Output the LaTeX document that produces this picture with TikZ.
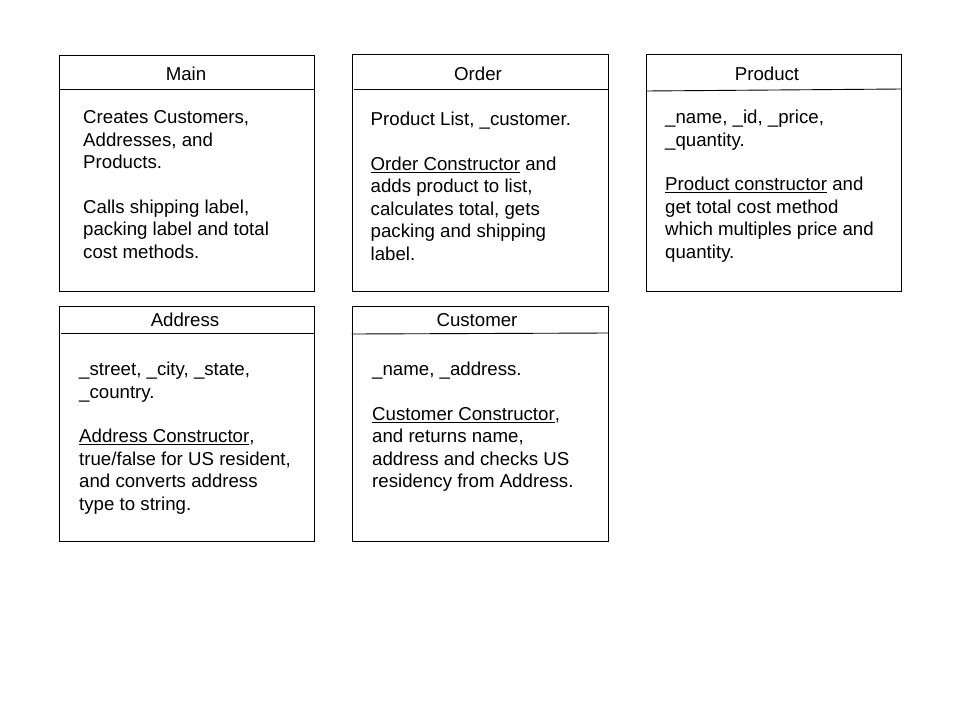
\documentclass[tikz,border=0pt]{standalone}
\usepackage{fontspec}
\setmainfont{Liberation Sans}
\newcommand{\topstrut}{\rule{0pt}{15pt}}
\tikzset{
  box/.style={draw, line width=0.9pt, rectangle, inner sep=0pt, anchor=north west},
  hdr/.style={line width=0.9pt},
  title/.style={font=\fontsize{18.67}{22.4}\selectfont, inner sep=0pt},
  body/.style={font=\fontsize{18.67}{22.4}\selectfont, align=left, anchor=north west, inner sep=0pt}
}
\begin{document}
\begin{tikzpicture}[x=1pt,y=-1pt]
\useasboundingbox (0,0) rectangle (960,720);
% boxes
\node[box, minimum width=255.5pt, minimum height=236pt] (main) at (58.5,54.5) {};
\node[box, minimum width=256pt, minimum height=236.5pt] (ord) at (352,54) {};
\node[box, minimum width=255pt, minimum height=236.5pt] (prod) at (646,54) {};
\node[box, minimum width=255.5pt, minimum height=235.5pt] (addr) at (58.5,305.5) {};
\node[box, minimum width=256.5pt, minimum height=235.5pt] (cust) at (351.5,305.5) {};
% header lines
\draw[hdr] ([yshift=-35pt]main.north west) -- ([yshift=-35pt]main.north east);
\draw[hdr] ([xshift=1.5pt,yshift=-35pt]ord.north west) -- ([yshift=-35pt]ord.north east);
\draw[hdr] ([yshift=-37pt]prod.north west) -- ([yshift=-35pt]prod.north east);
\draw[hdr] ([xshift=2.5pt,yshift=-28pt]addr.north west) -- ([yshift=-28pt]addr.north east);
\draw[hdr] ([yshift=-28.5pt]cust.north west) -- ([yshift=-27.5pt]cust.north east);
% titles
\node[title] (maint) at (186,74) {Main};
\node[title] (ordt) at (478,74) {Order};
\node[title] (prodt) at (767,74) {Product};
\node[title] (addrt) at (185,320) {Address};
\node[title] (custt) at (477,320) {Customer};
% bodies
\node[body] (mainb) at (83,108.5) {\topstrut Creates Customers,\\Addresses, and\\Products.\\[22.4pt]Calls shipping label,\\packing label and total\\cost methods.};
\node[body] (ordb) at (370.5,110.5) {\topstrut Product List, \_customer.\\[22.4pt]\underline{Order Constructor} and\\adds product to list,\\calculates total, gets\\packing and shipping\\label.};
\node[body] (prodb) at (665,108.5) {\topstrut\_name, \_id, \_price,\\\_quantity.\\[22.4pt]\underline{Product constructor} and\\get total cost method\\which multiples price and\\quantity.};
\node[body] (addrb) at (79,360.5) {\topstrut\_street, \_city, \_state,\\\_country.\\[22.4pt]\underline{Address Constructor},\\true/false for US resident,\\and converts address\\type to string.};
\node[body] (custb) at (372,360.5) {\topstrut\_name, \_address.\\[22.4pt]\underline{Customer Constructor},\\and returns name,\\address and checks US\\residency from Address.};
\end{tikzpicture}
\end{document}
